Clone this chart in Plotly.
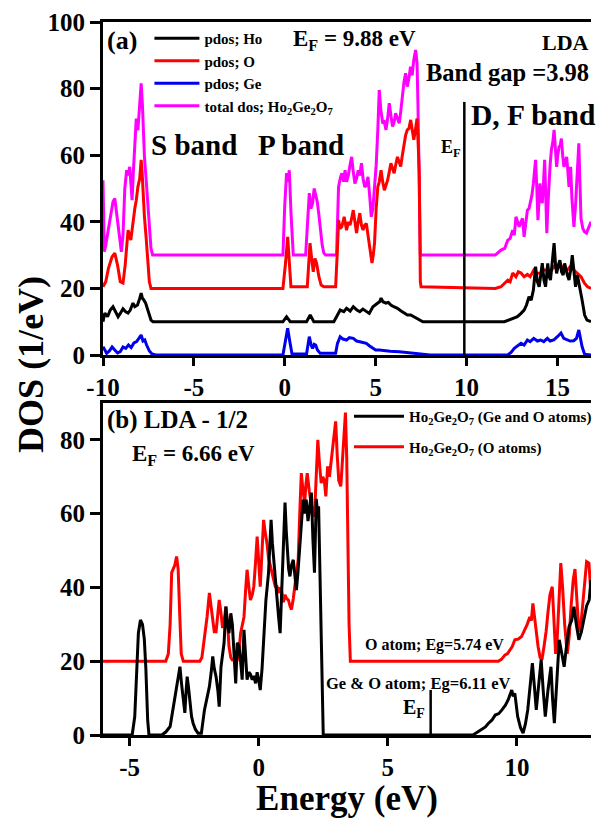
import plotly.graph_objects as go

# ---------------- data (energy, DOS) ----------------
ho_pdos = [(-10.0,10),(-9.9,12.6),(-9.75,11.5),(-9.6,13.5),(-9.45,14.5),(-9.3,12.8),(-9.17,11.5),(-9.05,12.5),(-8.9,13.9),(-8.75,13.0),(-8.62,12.6),(-8.5,13.5),(-8.35,15.6),(-8.25,14.5),(-8.1,15.0),(-7.98,17.0),(-7.9,18.6),(-7.83,17.0),(-7.76,16.6),(-7.65,15.5),(-7.54,13.6),(-7.45,12.0),(-7.36,10.5),(-7.25,10),(-0.1,10),(0.1,11.5),(0.3,10),(1.2,10),(1.4,12),(1.6,10),(2.7,10),(2.85,11.5),(3.05,13.5),(3.25,13.0),(3.4,14.0),(3.6,13.2),(3.77,14.5),(3.95,13.6),(4.13,13.0),(4.3,13.8),(4.49,13.0),(4.65,12.5),(4.85,14.5),(5.0,15.0),(5.12,15.6),(5.22,16.0),(5.3,17.1),(5.4,16.0),(5.57,15.6),(5.7,15.8),(5.84,15.0),(6.0,14.5),(6.2,14.0),(6.4,13.2),(6.56,12.6),(6.75,12.0),(6.93,12.0),(7.1,11.5),(7.28,11.0),(7.46,10.3),(7.6,10),(12.08,10),(12.45,10.8),(12.8,11.5),(13.0,12.5),(13.17,13.5),(13.3,15.0),(13.44,17.5),(13.56,16.5),(13.68,19.5),(13.8,26.5),(13.9,22.0),(14.0,20.5),(14.08,24.0),(14.17,27.6),(14.26,22.5),(14.35,20.5),(14.47,27.5),(14.55,23.5),(14.62,22.5),(14.72,28.0),(14.82,33.6),(14.9,27.0),(14.96,24.5),(15.05,27.0),(15.14,28.5),(15.23,25.0),(15.32,24.0),(15.4,27.5),(15.45,26.0),(15.55,24.0),(15.64,22.5),(15.73,25.5),(15.82,30.0),(15.9,25.0),(16.0,20.5),(16.1,24.0),(16.18,22.0),(16.28,19.0),(16.36,16.5),(16.5,12.0),(16.63,10.5),(16.85,10)]

o_pdos = [(-10.0,20.5),(-9.85,22),(-9.7,26),(-9.5,29.5),(-9.35,30.6),(-9.2,27),(-9.05,22),(-8.9,21.6),(-8.78,27),(-8.68,35),(-8.62,37.5),(-8.47,34.5),(-8.35,40.5),(-8.25,44),(-8.17,46.5),(-8.08,50.5),(-7.98,53),(-7.9,58.6),(-7.85,55),(-7.81,50.5),(-7.72,41.5),(-7.63,35.5),(-7.54,28.5),(-7.45,22),(-7.36,20),(-0.1,20),(0.05,28),(0.16,35.5),(0.25,28),(0.34,20.5),(1.24,20.5),(1.39,33.6),(1.5,28),(1.57,25),(1.66,29),(1.75,27.6),(1.88,23.5),(2.0,21),(2.15,20.5),(2.8,20.5),(2.9,32),(2.96,40.5),(3.05,38),(3.14,38.5),(3.27,41.5),(3.4,37.5),(3.5,40),(3.59,39),(3.68,41),(3.77,43.5),(3.86,40),(3.95,36.6),(4.04,40),(4.13,42.6),(4.22,39),(4.31,37.5),(4.4,39),(4.49,39.5),(4.58,36),(4.67,32.5),(4.8,27.6),(4.87,30),(4.94,33.6),(5.03,44),(5.12,50.5),(5.2,52),(5.3,55.5),(5.39,52),(5.48,49.5),(5.57,51),(5.66,52.5),(5.75,55),(5.84,57.6),(5.93,56),(6.02,54.6),(6.1,57),(6.2,59.5),(6.29,58),(6.38,56.6),(6.47,60),(6.56,63.6),(6.65,66),(6.74,67.6),(6.83,68),(6.93,70.6),(7.02,68),(7.1,64.6),(7.2,68),(7.28,71),(7.35,62),(7.4,55),(7.46,22),(7.5,20.5),(11.58,20),(11.9,20.5),(12.27,22.5),(12.4,22),(12.54,24.6),(12.72,23.5),(12.85,25),(13.0,24.6),(13.17,23.5),(13.35,24.2),(13.5,23.5),(13.7,25.5),(13.85,24.5),(14.08,24.6),(14.25,25.5),(14.45,25.5),(14.6,24.8),(14.8,26.5),(15.0,26),(15.2,27),(15.35,25.5),(15.55,25.5),(15.7,26.5),(15.9,25.5),(16.1,24.8),(16.3,23.5),(16.5,21.5),(16.66,20.5),(16.85,20)]

ge_pdos = [(-10.0,2.5),(-9.9,1.5),(-9.8,0.5),(-9.65,1.2),(-9.5,2.4),(-9.35,1.5),(-9.2,0.6),(-9.05,1.0),(-8.9,2.4),(-8.75,2.0),(-8.6,3.0),(-8.45,2.2),(-8.3,3.6),(-8.15,4.0),(-8.0,5.0),(-7.9,6.0),(-7.8,4.2),(-7.7,4.5),(-7.6,3.0),(-7.45,1.2),(-7.3,0.3),(-7.1,0),(-0.1,0),(0.05,4),(0.16,8),(0.28,4),(0.4,0.3),(1.2,0.3),(1.35,5.5),(1.45,3),(1.53,2),(1.62,3.2),(1.7,3),(1.8,1.5),(1.95,0.5),(2.8,0.5),(2.9,3.5),(3.05,5.5),(3.2,4.8),(3.4,4.5),(3.55,5.2),(3.77,5),(3.95,4.2),(4.13,4),(4.3,3.8),(4.49,3.5),(4.65,2.8),(4.85,2),(5.0,1.5),(5.2,1.5),(5.8,1.1),(6.3,1),(6.9,0.7),(7.5,0.4),(8.0,0),(12.27,0),(12.45,0.8),(12.63,2),(12.8,2.8),(13.0,3.5),(13.17,3.0),(13.35,4.5),(13.5,4.0),(13.7,5),(13.9,4.2),(14.08,4.5),(14.25,4.0),(14.45,5),(14.6,4.2),(14.8,4.5),(15.0,5.5),(15.2,6.6),(15.35,5),(15.55,4.5),(15.7,4.2),(15.9,4.3),(16.05,5),(16.18,7.5),(16.28,5),(16.36,2.5),(16.5,0.2),(16.85,0)]

total_dos = [(-10.0,52.5),(-9.97,40),(-9.93,31),(-9.85,33),(-9.7,38),(-9.6,41.5),(-9.45,46),(-9.35,47),(-9.26,43),(-9.17,40.5),(-9.08,36),(-8.99,31),(-8.9,36),(-8.8,50),(-8.7,55.5),(-8.6,54),(-8.53,56.5),(-8.4,46.5),(-8.33,55),(-8.26,62.5),(-8.17,71),(-8.08,67.5),(-8.0,75),(-7.9,81.6),(-7.83,75),(-7.76,65),(-7.72,59.5),(-7.63,53),(-7.54,46.5),(-7.45,38),(-7.36,32),(-7.27,30),(-0.1,30),(0.0,45),(0.1,54.6),(0.18,52),(0.25,55.5),(0.35,42),(0.47,30),(1.15,30),(1.25,38),(1.35,48.6),(1.44,44),(1.53,45.6),(1.62,50),(1.7,47.6),(1.79,46),(1.88,42),(1.97,37.5),(2.06,33),(2.15,30.6),(2.25,30),(2.85,30),(2.96,50.5),(3.05,53),(3.14,54.6),(3.23,52),(3.32,55.5),(3.4,52),(3.5,54),(3.59,57),(3.68,59.5),(3.77,55),(3.86,51.5),(3.95,53),(4.04,55.5),(4.13,54),(4.22,57.6),(4.31,53),(4.4,50.5),(4.49,51),(4.58,53.5),(4.67,48),(4.76,41.5),(4.85,44),(4.94,49.5),(5.03,57),(5.12,67.6),(5.2,79.6),(5.28,74),(5.39,69.6),(5.48,70),(5.57,67.6),(5.66,71),(5.75,75.6),(5.84,72),(5.93,68.6),(6.02,70),(6.1,72.6),(6.2,71),(6.3,69.6),(6.38,73),(6.47,77.6),(6.56,82),(6.65,84.6),(6.74,80.6),(6.83,83),(6.92,86.6),(7.01,84),(7.1,88.6),(7.2,91.6),(7.28,87.6),(7.33,75),(7.37,57.6),(7.42,40),(7.46,30),(11.58,30),(11.9,31.5),(12.1,32),(12.27,34.5),(12.4,35),(12.54,37.5),(12.63,36),(12.72,41.5),(12.81,40),(12.9,38.5),(13.0,40),(13.08,41),(13.17,35.5),(13.26,40),(13.35,43.5),(13.44,44),(13.53,46.5),(13.6,48),(13.68,51.5),(13.75,55),(13.8,58.6),(13.87,50),(13.93,40.5),(14.0,47),(14.04,51.5),(14.1,48),(14.17,45.6),(14.24,52),(14.3,58.6),(14.36,48),(14.42,36.6),(14.48,45),(14.54,53.5),(14.6,57),(14.67,61.6),(14.75,64),(14.82,67.6),(14.89,62),(14.96,56.5),(15.02,60),(15.09,62.5),(15.16,63),(15.22,65),(15.29,60),(15.36,56.5),(15.43,58),(15.51,59.5),(15.58,55),(15.64,50.5),(15.69,55),(15.73,56.5),(15.8,47),(15.86,40),(15.91,38.5),(16.0,45),(16.1,55),(16.18,63.6),(16.24,52),(16.3,41),(16.4,38),(16.49,37),(16.6,36.6),(16.7,38),(16.85,40)]

ge_o_atoms = [(-6.03,0),(-4.9,0),(-4.8,5),(-4.72,20),(-4.66,27.6),(-4.58,31.2),(-4.5,30),(-4.43,26),(-4.37,18),(-4.3,4),(-4.25,0),(-3.75,0),(-3.6,0.8),(-3.43,2.3),(-3.3,7.7),(-3.18,12.2),(-3.1,16),(-3.05,18.5),(-2.99,14),(-2.95,11.3),(-2.9,8),(-2.86,6),(-2.81,12),(-2.77,15.8),(-2.72,13),(-2.67,9.5),(-2.6,5),(-2.54,3.2),(-2.45,1.5),(-2.35,0.5),(-2.22,0.5),(-2.1,6.8),(-2.0,10),(-1.91,13.1),(-1.84,17),(-1.78,21.3),(-1.72,18),(-1.65,15.8),(-1.58,12),(-1.53,7.7),(-1.46,18.5),(-1.4,22),(-1.34,25),(-1.27,34.8),(-1.21,30),(-1.15,27.6),(-1.08,33),(-1.02,30),(-0.95,22),(-0.89,14),(-0.83,25),(-0.76,24),(-0.7,20),(-0.64,15),(-0.57,28.5),(-0.51,20),(-0.45,15),(-0.38,17),(-0.32,16.5),(-0.25,15),(-0.19,16),(-0.12,14),(-0.06,17),(0.0,15),(0.06,12.2),(0.13,18),(0.19,25),(0.28,36.6),(0.38,43.9),(0.48,58.3),(0.53,52),(0.57,48.4),(0.64,42),(0.7,36.6),(0.77,32),(0.83,27.6),(0.89,38),(0.96,50),(1.02,63),(1.07,55),(1.12,49.2),(1.16,45),(1.21,43),(1.27,46),(1.34,47.5),(1.4,43),(1.46,39.3),(1.52,44),(1.59,50.2),(1.65,57),(1.72,63.8),(1.78,60),(1.84,63.8),(1.91,58),(1.97,62),(2.04,65.7),(2.1,53),(2.16,44),(2.23,64),(2.28,60),(2.32,62),(2.37,45),(2.42,27.6),(2.46,10),(2.5,0),(8.3,0),(8.4,0.5),(8.55,1.2),(8.65,1.8),(8.78,2.2),(8.9,3.2),(9.03,4),(9.16,5.4),(9.3,5.8),(9.42,6.8),(9.55,8),(9.66,9.5),(9.74,11),(9.8,12.2),(9.86,10.5),(9.92,11.3),(10.03,5),(10.14,2),(10.24,0.5),(10.33,3),(10.42,6.8),(10.52,14),(10.6,19.5),(10.68,13),(10.75,6.8),(10.85,14),(10.94,20.4),(11.02,12),(11.1,5),(11.2,12),(11.32,18.5),(11.38,10),(11.45,3.2),(11.55,15),(11.64,25.8),(11.74,22),(11.83,18.5),(11.92,24),(12.02,29.4),(12.12,31),(12.21,34.8),(12.3,30),(12.4,25.8),(12.5,28),(12.6,31.6),(12.7,35),(12.8,36.6),(12.87,42)]

o_atoms = [(-6.03,20),(-3.6,20),(-3.5,22),(-3.43,30),(-3.37,44),(-3.3,45),(-3.25,46),(-3.18,48.4),(-3.12,45),(-3.06,33),(-3.0,22),(-2.92,20),(-2.28,20),(-2.2,21),(-2.1,25.8),(-2.0,32),(-1.91,38.5),(-1.85,35),(-1.78,32),(-1.72,28),(-1.65,28),(-1.59,33),(-1.53,36.6),(-1.46,33),(-1.4,29),(-1.34,31),(-1.27,34.8),(-1.2,30),(-1.15,24),(-1.08,21),(-1.02,20.3),(-0.83,20.3),(-0.76,23),(-0.7,27.6),(-0.62,30),(-0.57,32),(-0.5,40),(-0.45,44.8),(-0.38,40),(-0.32,36.6),(-0.25,38),(-0.19,40.2),(-0.12,47),(-0.06,53.8),(0.0,47),(0.06,40.2),(0.13,50),(0.19,58.3),(0.25,55),(0.32,52),(0.38,48),(0.45,45.7),(0.51,44),(0.57,42),(0.65,40),(0.7,40.5),(0.76,38.5),(0.83,40),(0.89,39),(0.96,36),(1.02,38),(1.08,37),(1.15,36.6),(1.21,35),(1.27,34),(1.34,37),(1.4,40.2),(1.46,44),(1.53,47.5),(1.59,60),(1.65,71),(1.72,66),(1.78,63),(1.83,68),(1.88,71),(1.96,66),(2.04,62),(2.1,60),(2.16,59.2),(2.22,70),(2.29,80),(2.35,74),(2.42,68.3),(2.48,70),(2.54,69),(2.6,64.7),(2.67,72.8),(2.74,70),(2.8,73.8),(2.87,78),(2.93,82),(2.98,85),(3.04,76),(3.1,69),(3.18,67.4),(3.24,75),(3.3,83),(3.36,87.4),(3.41,75),(3.45,55),(3.5,30),(3.55,20),(9.28,20),(9.4,20.5),(9.54,21.7),(9.63,22),(9.73,23),(9.82,24),(9.92,25.8),(10.05,26),(10.18,26.7),(10.3,28.5),(10.4,30),(10.5,32),(10.56,31),(10.62,35.7),(10.68,32),(10.75,28),(10.82,24),(10.9,21),(10.97,20.4),(11.05,24),(11.13,28),(11.2,33),(11.28,38),(11.37,40.2),(11.44,30),(11.5,22),(11.56,26),(11.62,35),(11.7,46.6),(11.77,40),(11.85,30),(11.95,22),(12.03,27),(12.1,35),(12.18,42),(12.25,45),(12.32,36),(12.4,28),(12.48,30),(12.55,35),(12.63,42),(12.7,47),(12.79,46.6),(12.87,38)]

fermi_a = [9.88, 9.88]
fermi_a_dos = [0, 76]
fermi_b = [6.66, 6.66]
fermi_b_dos = [0, 12.2]

xticks_a = [-10, -5, 0, 5, 10, 15]
xticks_b = [-5, 0, 5, 10]
yticks_a = [0, 20, 40, 60, 80, 100]
yticks_b = [0, 20, 40, 60, 80]

# ---------------- figure ----------------
FONT = "Liberation Serif"
W, H = 597, 818
ML, MR, MT, MB = 103, 0, 22, 83
PW, PH = W - ML - MR, H - MT - MB


def px_x(px):
    return (px - ML) / PW


def px_y(py):
    return (H - MB - py) / PH


def xy(series):
    return [p[0] for p in series], [p[1] for p in series]


fig = go.Figure()

top = [("pdos; Ho", ho_pdos, "#000000", 1),
       ("pdos; O", o_pdos, "#ff0000", 2),
       ("pdos; Ge", ge_pdos, "#0000ee", 3),
       ("total dos; Ho<sub>2</sub>Ge<sub>2</sub>O<sub>7</sub>", total_dos, "#ff00ff", 4)]
for name, s, c, rk in reversed(top):
    x, y = xy(s)
    fig.add_trace(go.Scatter(x=x, y=y, mode="lines", name=name,
                             line=dict(color=c, width=3), xaxis="x", yaxis="y",
                             legend="legend", legendrank=rk))

fig.add_trace(go.Scatter(x=fermi_a, y=fermi_a_dos, mode="lines", showlegend=False,
                         line=dict(color="black", width=2.5), xaxis="x", yaxis="y"))

for name, s, c, rk in [("Ho<sub>2</sub>Ge<sub>2</sub>O<sub>7</sub> (O atoms)", o_atoms, "#ff0000", 2),
                       ("Ho<sub>2</sub>Ge<sub>2</sub>O<sub>7</sub> (Ge and O atoms)", ge_o_atoms, "#000000", 1)]:
    x, y = xy(s)
    fig.add_trace(go.Scatter(x=x, y=y, mode="lines", name=name,
                             line=dict(color=c, width=3), xaxis="x2", yaxis="y2",
                             legend="legend2", legendrank=rk, legendgroup="g%d" % rk))

fig.add_trace(go.Scatter(x=fermi_b, y=fermi_b_dos, mode="lines", showlegend=False,
                         line=dict(color="black", width=2.5), xaxis="x2", yaxis="y2"))

tickfont = dict(family=FONT, size=25, color="black", weight="bold")
axis_common = dict(showline=True, linewidth=3, linecolor="black", ticks="outside",
                   tickwidth=3, tickcolor="black", showgrid=False, zeroline=False,
                   tickfont=tickfont)

fig.update_layout(
    width=W, height=H,
    margin=dict(l=ML, r=MR, t=MT, b=MB),
    paper_bgcolor="white", plot_bgcolor="white",
    font=dict(family=FONT, color="black"),
    xaxis=dict(domain=[0, 1], anchor="y", range=[-10, 16.85], mirror=True,
               tickvals=xticks_a, ticktext=[str(v) for v in xticks_a], ticklen=8,
               **axis_common),
    yaxis=dict(domain=[px_y(355), 1], anchor="x", range=[0, 100],
               tickvals=yticks_a, ticktext=[str(v) for v in yticks_a], ticklen=10,
               **axis_common),
    xaxis2=dict(domain=[0, 1], anchor="y2", range=[-6.03, 12.87], mirror=True,
                tickvals=xticks_b, ticktext=[str(v) for v in xticks_b], ticklen=8,
                title=dict(text="Energy (eV)", font=dict(family=FONT, size=35, weight="bold", color="black"),
                           standoff=2),
                **axis_common),
    yaxis2=dict(domain=[0, px_y(403)], anchor="x2", range=[0, 90],
                tickvals=yticks_b, ticktext=[str(v) for v in yticks_b], ticklen=10,
                **axis_common),
    legend=dict(x=px_x(150), y=px_y(22), xanchor="left", yanchor="top",
                bgcolor="rgba(0,0,0,0)", borderwidth=0, itemwidth=45,
                font=dict(family=FONT, size=15, weight="bold", color="black"),
                tracegroupgap=0),
    legend2=dict(x=px_x(352), y=px_y(400), xanchor="left", yanchor="top",
                 bgcolor="rgba(0,0,0,0)", borderwidth=0, itemwidth=50,
                 font=dict(family=FONT, size=15, weight="bold", color="black"),
                 tracegroupgap=8),
    showlegend=True,
)


def ann(text, px, py, size, xanchor="center", yanchor="middle", angle=0):
    fig.add_annotation(text=text, xref="paper", yref="paper", x=px_x(px), y=px_y(py),
                       xanchor=xanchor, yanchor=yanchor, showarrow=False, textangle=angle,
                       font=dict(family=FONT, size=size, weight="bold", color="black"))


ann("(a)", 105, 40, 26, "left")
ann("E<sub>F</sub> = 9.88 eV", 358, 40, 23)
ann("LDA", 597, 42, 22, "right")
ann("Band gap =3.98", 428, 73, 24.5, "left")
ann("S band", 195, 145, 29)
ann("P band", 303, 145, 29)
ann("D, F band", 474, 115, 29.5, "left")
ann("E<sub>F</sub>", 455, 148, 18)

ann("(b) LDA - 1/2", 105, 420, 25, "left")
ann("E<sub>F</sub> = 6.66 eV", 130, 455, 23, "left")
ann("O atom; Eg=5.74 eV", 366, 645, 16, "left")
ann("Ge &amp; O atom; Eg=6.11 eV", 327, 683, 16.5, "left")
ann("E<sub>F</sub>", 418, 708, 20)

ann("DOS (1/eV)", 30, 364, 36, angle=-90)

fig.write_html("out.html", config={"displayModeBar": False},
               post_script="document.body.style.margin='0px';document.body.style.overflow='hidden';")
